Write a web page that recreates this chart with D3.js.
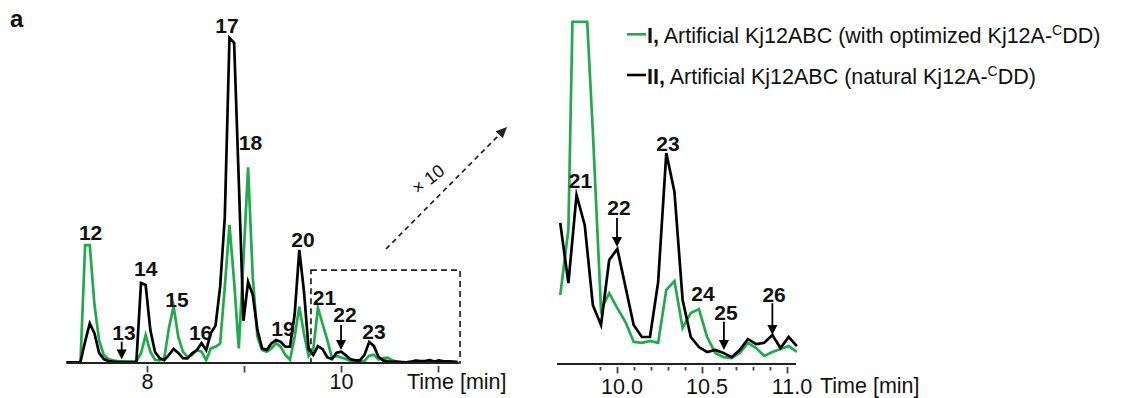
<!DOCTYPE html>
<html>
<head>
<meta charset="utf-8">
<script src="https://cdn.jsdelivr.net/npm/d3@7"></script>
<style>
  body { margin: 0; background: #fff; }
  svg { display: block; }
  text { font-family: "Liberation Sans", Arial, sans-serif; fill: #111; }
</style>
</head>
<body>
<svg id="chart" width="1124" height="398"></svg>
<script>
// Sampling grid of the chromatogram (retention time, min)
const t0 = 7.17;
const dt = 0.048;

// Trace I: Artificial Kj12ABC (with optimized Kj12A-CDD), relative intensity
const seriesI = [
  0.2, 0.2, 0.2, 0.3, 36.3, 36.3, 18, 7, 2.5, 1.2,
  0.8, 0.6, 0.5, 0.4, 0.4, 0.5, 3.0, 8.6, 3.5, 1.0,
  0.8, 1.5, 10.8, 17.5, 8.1, 3.5, 1.8, 2.5, 4.0, 3.5,
  0.9, 4.5, 5.0, 6.0, 23.5, 42.5, 25, 4.5, 31.7, 60.2,
  26.5, 8.1, 4.0, 3.5, 4.5, 6.1, 5.0, 2.5, 1.0, 8,
  17.3, 9, 2.09, 4.1, 17, 12, 7.1, 1.63, 2.15, 1.69,
  1.26, 0.65, 0.62, 0.68, 0.62, 2.25, 2.52, 1.08, 1.54, 1.66,
  0.80, 0.31, 0.18, 0.15, 0.31, 0.62, 0.46, 0.22, 0.34, 0.43,
  0.52, 0.34, 0.4, 0.3, 0.3
];

// Trace II: Artificial Kj12ABC (natural Kj12A-CDD), relative intensity
const seriesII = [
  0.2, 0.2, 0.2, 0.3, 6.6, 12.2, 9.2, 3.1, 1.2, 0.6,
  0.4, 0.3, 0.3, 0.3, 0.3, 0.3, 24.6, 24.0, 10.2, 3.4,
  1.5, 0.9, 2.5, 4.3, 3.1, 1.5, 1.4, 3.0, 4.0, 6.1,
  4.0, 9.2, 11.5, 23.5, 45, 100, 98.5, 56, 13, 25,
  21, 10.2, 4.5, 4.0, 6.0, 7.1, 6.5, 5.0, 5.0, 15,
  34.8, 22, 4.31, 2.46, 5.17, 4.25, 1.78, 1.17, 3.17, 3.51,
  2.34, 1.17, 0.80, 0.80, 2.49, 6.46, 5.26, 1.94, 0.80, 0.49,
  0.34, 0.40, 0.31, 0.18, 0.40, 0.74, 0.58, 0.62, 0.86, 0.46,
  0.80, 0.52, 0.5, 0.4, 0.3
];

const times = seriesI.map((_, i) => +(t0 + i * dt).toFixed(3));

// Axis ticks
const ticksMain = [8, 9, 10, 11];
const tickLabelsMain = [8, 10];
const ticksZoom = [9.9, 10.0, 10.1, 10.2, 10.3, 10.4, 10.5, 10.6, 10.7, 10.8, 10.9, 11.0];
const tickLabelsZoom = [10.0, 10.5, 11.0];

// Peak labels (time, intensity level of the label baseline); arrows: [time, from, tip]
const peaksMain = [
  { text: "12", t: 7.418, v: 37.8 },
  { text: "13", t: 7.763, v: 7.2, arrow: [7.739, 6.55, 1.1] },
  { text: "14", t: 7.987, v: 26.8 },
  { text: "15", t: 8.309, v: 17.3 },
  { text: "16", t: 8.552, v: 7.2 },
  { text: "17", t: 8.825, v: 101.4 },
  { text: "18", t: 9.067, v: 65.5 },
  { text: "19", t: 9.402, v: 8.3 },
  { text: "20", t: 9.608, v: 35.7 },
  { text: "21", t: 9.830, v: 17.8 },
  { text: "22", t: 10.041, v: 12.6, arrow: [10.0, 11.7, 4.0] },
  { text: "23", t: 10.340, v: 7.5 }
];
const peaksZoom = [
  { text: "21", t: 9.785, v: 5.37 },
  { text: "22", t: 10.012, v: 4.55, arrow: [10.0, 4.46, 3.57] },
  { text: "23", t: 10.30, v: 6.52 },
  { text: "24", t: 10.506, v: 1.92 },
  { text: "25", t: 10.641, v: 1.31, arrow: [10.629, 1.27, 0.40] },
  { text: "26", t: 10.924, v: 1.88, arrow: [10.914, 1.84, 0.86] }
];

const legendItems = [
  { roman: "I,", text: " Artificial Kj12ABC (with optimized Kj12A-", color: "#1faa4c" },
  { roman: "II,", text: " Artificial Kj12ABC (natural Kj12A-", color: "#000" }
];

const GREEN = "#1faa4c", BLACK = "#000";
const svg = d3.select("#chart");

// ---------- scales ----------
const xL = d3.scaleLinear().domain([7.17, 11.21]).range([66.5, 458.4]);
const yL = d3.scaleLinear().domain([0, 100]).range([363, 38]);
const xR = d3.scaleLinear().domain([9.647, 11.053]).range([557, 796]);
const yR = d3.scaleLinear().domain([0, 10]).range([363, 38]);
const zoomCap = 10.5;   // intensity above which the x10 view is flattened

const ptsI = times.map((t, i) => ({ t, v: seriesI[i] }));
const ptsII = times.map((t, i) => ({ t, v: seriesII[i] }));

// flatten any excursion above a ceiling onto the ceiling, splitting segments at the crossing
function flattenAbove(pts, yTop) {
  const out = [];
  for (let k = 0; k < pts.length; k++) {
    const [x, y] = pts[k];
    if (k > 0) {
      const [px, py] = pts[k - 1];
      if ((py < yTop) !== (y < yTop)) {
        const f = (yTop - py) / (y - py);
        out.push([px + f * (x - px), yTop]);
      }
    }
    out.push([x, Math.max(y, yTop)]);
  }
  return out;
}

const lineGen = d3.line();
const LW = 2.7;

// ---------- main trace panel ----------
const gL = svg.append("g");
[[ptsI, GREEN], [ptsII, BLACK]].forEach(([pts, c]) => {
  gL.append("path")
    .attr("d", lineGen(pts.map(p => [xL(p.t), yL(p.v)])))
    .attr("fill", "none").attr("stroke", c).attr("stroke-width", LW)
    .attr("stroke-linejoin", "miter").attr("stroke-miterlimit", 6);
});

// ---------- x10 panel ----------
const gR = svg.append("g");
const inZoom = p => p.t >= xR.domain()[0] && p.t <= 11.06;
[[ptsI, GREEN], [ptsII, BLACK]].forEach(([pts, c]) => {
  const px = pts.filter(inZoom).map(p => [xR(p.t), yR(p.v)]);
  gR.append("path")
    .attr("d", lineGen(flattenAbove(px, yR(zoomCap))))
    .attr("fill", "none").attr("stroke", c).attr("stroke-width", LW)
    .attr("stroke-linejoin", "miter").attr("stroke-miterlimit", 6);
});

// ---------- axes ----------
function drawAxis(g, x, yLine, ticks, labelled, major, labelDy, labelDx, fmt) {
  g.append("line")
    .attr("x1", x.range()[0]).attr("x2", x.range()[1])
    .attr("y1", yLine).attr("y2", yLine)
    .attr("stroke", "#222").attr("stroke-width", 2);
  const ax = d3.axisBottom(x).tickValues(ticks).tickSizeOuter(0)
    .tickFormat(d => labelled.some(l => Math.abs(l - d) < 1e-6) ? fmt(d) : "");
  const a = g.append("g").attr("transform", `translate(0,${yLine + 3})`).call(ax);
  a.select(".domain").remove();
  a.selectAll(".tick line")
    .attr("stroke", "#444").attr("stroke-width", 1.8)
    .attr("y2", d => major(d) ? 6.5 : 3.5);
  a.selectAll(".tick text")
    .attr("y", labelDy).attr("dy", 0).attr("dx", labelDx)
    .style("font-family", '"Liberation Sans", Arial, sans-serif')
    .style("font-size", "21.5px").attr("fill", "#111");
}
drawAxis(gL, xL, 363, ticksMain, tickLabelsMain, () => true, 22.5, 0, d => d3.format("d")(d));
drawAxis(gR, xR, 364, ticksZoom, tickLabelsZoom,
  d => tickLabelsZoom.some(l => Math.abs(l - d) < 1e-6), 26.5, 4.5, d => d3.format(".1f")(d));

gL.append("text").attr("x", 407).attr("y", 388.5).style("font-size", "21.5px").text("Time [min]");
gR.append("text").attr("x", 820).attr("y", 393.3).style("font-size", "21.5px").text("Time [min]");

// ---------- peak labels ----------
function drawPeaks(g, x, y, peaks) {
  peaks.forEach(p => {
    g.append("text")
      .attr("x", x(p.t)).attr("y", y(p.v))
      .attr("text-anchor", "middle")
      .style("font-size", "21px").style("font-weight", "bold")
      .text(p.text);
    if (p.arrow) {
      const [ta, vFrom, vTip] = p.arrow;
      const ax = x(ta), y1 = y(vFrom), y2 = y(vTip);
      g.append("line").attr("x1", ax).attr("x2", ax).attr("y1", y1).attr("y2", y2 - 6)
        .attr("stroke", "#000").attr("stroke-width", 1.8);
      g.append("path")
        .attr("d", `M${ax - 5},${y2 - 10}L${ax + 5},${y2 - 10}L${ax},${y2}Z`)
        .attr("fill", "#000");
    }
  });
}
drawPeaks(gL, xL, yL, peaksMain);
drawPeaks(gR, xR, yR, peaksZoom);

// ---------- dashed region box and x10 pointer ----------
gL.append("rect")
  .attr("x", xL(9.69)).attr("y", yL(28.6))
  .attr("width", xL(11.227) - xL(9.69)).attr("height", yL(0) - yL(28.6))
  .attr("fill", "none").attr("stroke", "#222").attr("stroke-width", 1.7)
  .attr("stroke-dasharray", "6,4");

const arrowFrom = [386, 249], arrowTo = [507, 127];
svg.append("line")
  .attr("x1", arrowFrom[0]).attr("y1", arrowFrom[1])
  .attr("x2", arrowTo[0] - 6).attr("y2", arrowTo[1] + 6)
  .attr("stroke", "#222").attr("stroke-width", 1.7).attr("stroke-dasharray", "5,4");
{
  const ang = Math.atan2(arrowTo[1] - arrowFrom[1], arrowTo[0] - arrowFrom[0]);
  const L = 11, Wd = 5;
  const bx = arrowTo[0] - L * Math.cos(ang), by = arrowTo[1] - L * Math.sin(ang);
  const nx = -Math.sin(ang) * Wd, ny = Math.cos(ang) * Wd;
  svg.append("path")
    .attr("d", `M${arrowTo[0]},${arrowTo[1]}L${bx + nx},${by + ny}L${bx - nx},${by - ny}Z`)
    .attr("fill", "#222");
}
svg.append("text")
  .attr("transform", "translate(432,184) rotate(-38)")
  .attr("text-anchor", "middle")
  .style("font-size", "18px")
  .text("× 10");

// ---------- panel letter ----------
svg.append("text").attr("x", 10).attr("y", 27)
  .style("font-size", "24px").style("font-weight", "bold").text("a");

// ---------- legend ----------
const gLeg = svg.append("g");
legendItems.forEach((d, k) => {
  const yb = 43.3 + k * 40.7;
  gLeg.append("line")
    .attr("x1", 627).attr("x2", 646).attr("y1", yb - 9).attr("y2", yb - 9)
    .attr("stroke", d.color).attr("stroke-width", 2.6);
  const t = gLeg.append("text").attr("x", 647).attr("y", yb).style("font-size", "21.5px");
  t.append("tspan").style("font-weight", "bold").text(d.roman);
  t.append("tspan").text(d.text);
  t.append("tspan").attr("dy", -8).style("font-size", "14px").text("C");
  t.append("tspan").attr("dy", 8).text("DD)");
});
</script>
</body>
</html>
